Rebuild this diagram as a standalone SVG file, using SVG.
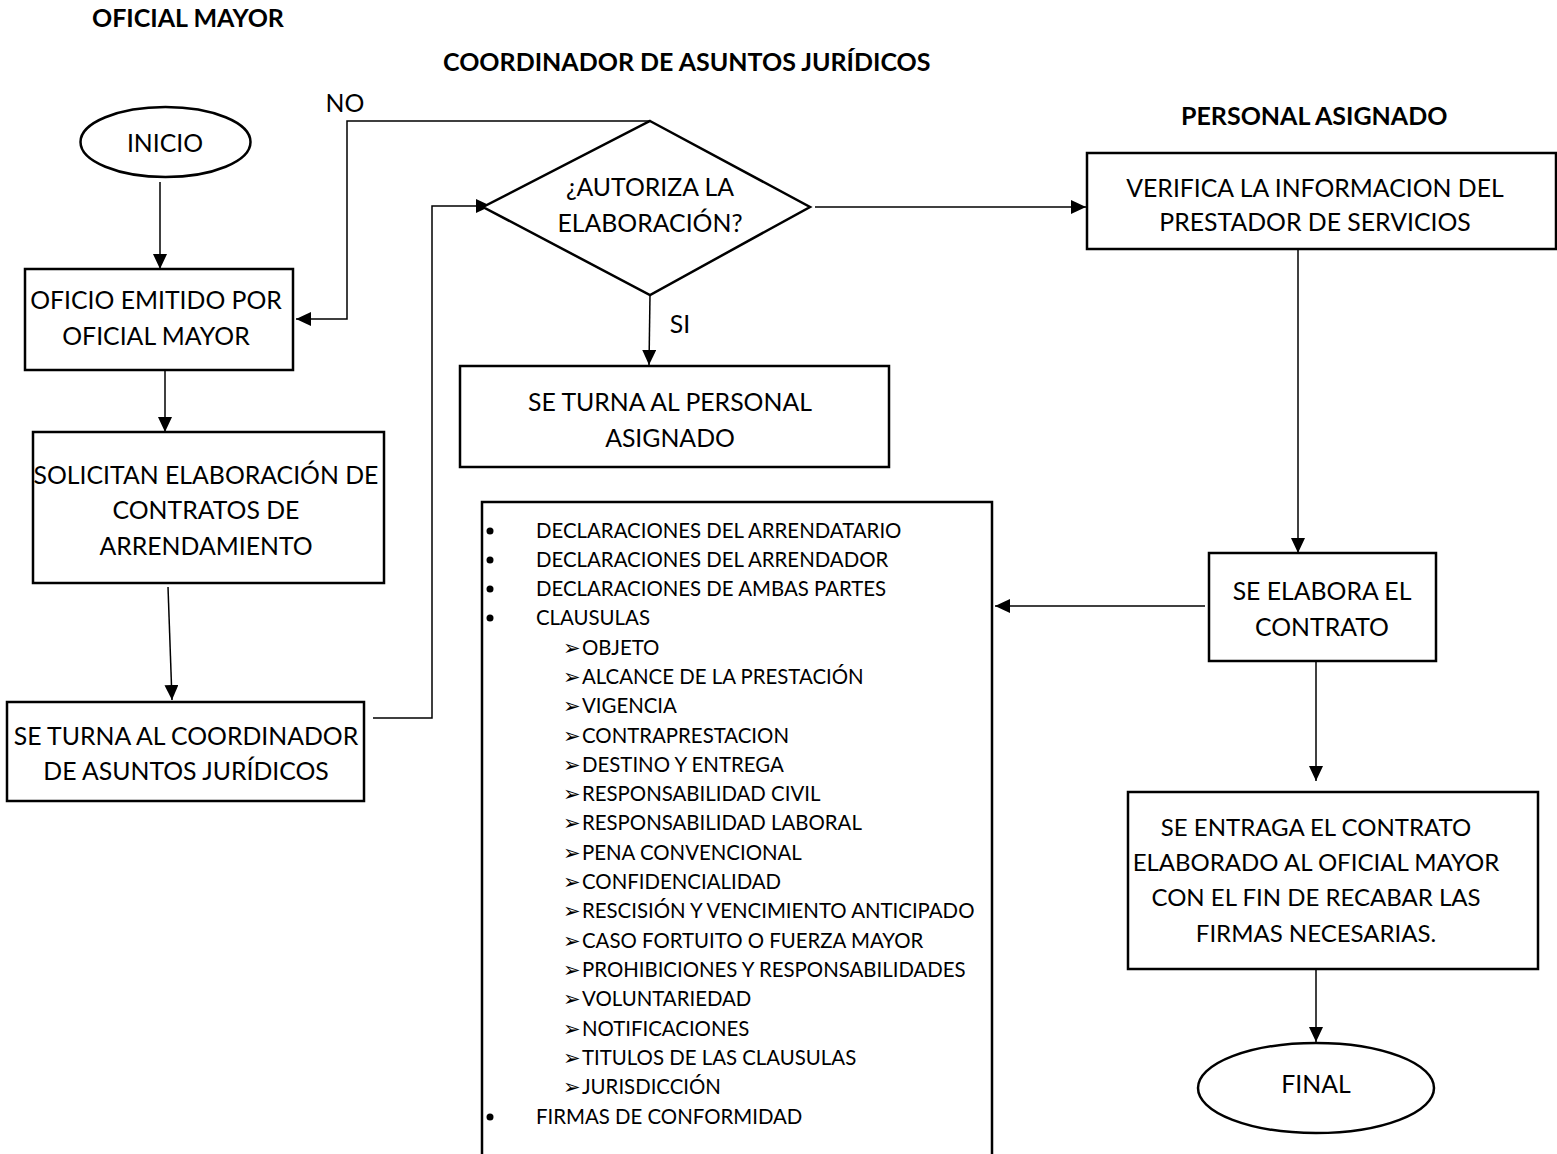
<svg xmlns="http://www.w3.org/2000/svg" width="1557" height="1154" viewBox="0 0 1557 1154">
<defs>
<marker id="ah" markerUnits="userSpaceOnUse" markerWidth="16" markerHeight="14" refX="15" refY="7" orient="auto">
<path d="M0,0 L15,7 L0,14 Z" fill="#000"/>
</marker>
<style>
.t{font-family:Lato,"Open Sans","Liberation Sans",sans-serif;font-size:24.8px;fill:#000;text-anchor:middle}
.h{font-family:Lato,"Open Sans","Liberation Sans",sans-serif;font-size:25px;font-weight:bold;fill:#000}
.l{font-family:Lato,"Open Sans","Liberation Sans",sans-serif;font-size:20.4px;fill:#000}
.b{font-family:"DejaVu Sans",sans-serif;font-size:21px;fill:#000}
.s{fill:#fff;stroke:#000;stroke-width:2.5}
.c{fill:none;stroke:#000;stroke-width:1.5;marker-end:url(#ah)}
</style>
</defs>
<rect width="1557" height="1154" fill="#fff"/>
<g id="titles">
<text class="h" x="92" y="27">OFICIAL MAYOR</text>
<text class="h" x="443" y="71">COORDINADOR DE ASUNTOS JURÍDICOS</text>
<text class="h" x="1181" y="125">PERSONAL ASIGNADO</text>
</g>
<g id="connectors">
<path class="c" d="M160,182 L160,269"/>
<path class="c" d="M650,121 L347,121 L347,319 L296,319"/>
<path class="c" d="M165,370 L165,432"/>
<path class="c" d="M168,587 L172,700"/>
<path class="c" d="M373,718 L432,718 L432,206 L491,206"/>
<path class="c" d="M650,295 L649,365"/>
<path class="c" d="M815,207 L1086,207"/>
<path class="c" d="M1298,250 L1298,553"/>
<path class="c" d="M1205,606 L995,606"/>
<path class="c" d="M1316,661 L1316,781"/>
<path class="c" d="M1316,969 L1316,1042"/>
<text class="t" x="345" y="112">NO</text>
<text class="t" x="680" y="333">SI</text>
</g>
<g id="inicio">
<ellipse class="s" cx="165.5" cy="142" rx="85" ry="35"/>
<text class="t" x="165" y="152">INICIO</text>
</g>
<g id="oficio">
<rect class="s" x="25" y="269" width="268" height="101"/>
<text class="t" x="156" y="309">OFICIO EMITIDO POR</text>
<text class="t" x="156" y="345">OFICIAL MAYOR</text>
</g>
<g id="solicitan">
<rect class="s" x="33" y="432" width="351" height="151"/>
<text class="t" x="206" y="484">SOLICITAN ELABORACIÓN DE</text>
<text class="t" x="206" y="519">CONTRATOS DE</text>
<text class="t" x="206" y="555">ARRENDAMIENTO</text>
</g>
<g id="turna-coord">
<rect class="s" x="7" y="702" width="357" height="99"/>
<text class="t" x="186" y="745">SE TURNA AL COORDINADOR</text>
<text class="t" x="186" y="780">DE ASUNTOS JURÍDICOS</text>
</g>
<g id="decision">
<polygon class="s" points="650,121 810,207 650,295 483,207"/>
<text class="t" x="650" y="196">¿AUTORIZA LA</text>
<text class="t" x="650" y="232">ELABORACIÓN?</text>
</g>
<g id="turna-personal">
<rect class="s" x="460" y="366" width="429" height="101"/>
<text class="t" x="670" y="411">SE TURNA AL PERSONAL</text>
<text class="t" x="670" y="447">ASIGNADO</text>
</g>
<g id="verifica">
<rect class="s" x="1087" y="153" width="469" height="96"/>
<text class="t" x="1315" y="197">VERIFICA LA INFORMACION DEL</text>
<text class="t" x="1315" y="231">PRESTADOR DE SERVICIOS</text>
</g>
<g id="elabora">
<rect class="s" x="1209" y="553" width="227" height="108"/>
<text class="t" x="1322" y="600">SE ELABORA EL</text>
<text class="t" x="1322" y="636">CONTRATO</text>
</g>
<g id="entrega">
<rect class="s" x="1128" y="792" width="410" height="177"/>
<g style="font-size:24px">
<text class="t" style="font-size:24px" x="1316" y="836">SE ENTRAGA EL CONTRATO</text>
<text class="t" style="font-size:24px" x="1316" y="871">ELABORADO AL OFICIAL MAYOR</text>
<text class="t" style="font-size:24px" x="1316" y="906">CON EL FIN DE RECABAR LAS</text>
<text class="t" style="font-size:24px" x="1316" y="942">FIRMAS NECESARIAS.</text>
</g>
</g>
<g id="final">
<ellipse class="s" cx="1316" cy="1088" rx="118" ry="45"/>
<text class="t" x="1316" y="1093">FINAL</text>
</g>
<g id="lista">
<path class="s" d="M482,1156 L482,502 L992,502 L992,1156"/>
<g fill="#000">
<circle cx="490" cy="531" r="3.5"/>
<circle cx="490" cy="560" r="3.5"/>
<circle cx="490" cy="589" r="3.5"/>
<circle cx="490" cy="618" r="3.5"/>
<circle cx="490" cy="1117" r="3.5"/>
</g>
<g class="b">
<text x="563" y="655">➢</text>
<text x="563" y="684">➢</text>
<text x="563" y="713">➢</text>
<text x="563" y="743">➢</text>
<text x="563" y="772">➢</text>
<text x="563" y="801">➢</text>
<text x="563" y="830">➢</text>
<text x="563" y="860">➢</text>
<text x="563" y="889">➢</text>
<text x="563" y="918">➢</text>
<text x="563" y="948">➢</text>
<text x="563" y="977">➢</text>
<text x="563" y="1006">➢</text>
<text x="563" y="1036">➢</text>
<text x="563" y="1065">➢</text>
<text x="563" y="1094">➢</text>
</g>
<g class="l">
<text x="536" y="538">DECLARACIONES DEL ARRENDATARIO</text>
<text x="536" y="567">DECLARACIONES DEL ARRENDADOR</text>
<text x="536" y="596">DECLARACIONES DE AMBAS PARTES</text>
<text x="536" y="625">CLAUSULAS</text>
<text x="582" y="655">OBJETO</text>
<text x="582" y="684">ALCANCE DE LA PRESTACIÓN</text>
<text x="582" y="713">VIGENCIA</text>
<text x="582" y="743">CONTRAPRESTACION</text>
<text x="582" y="772">DESTINO Y ENTREGA</text>
<text x="582" y="801">RESPONSABILIDAD CIVIL</text>
<text x="582" y="830">RESPONSABILIDAD LABORAL</text>
<text x="582" y="860">PENA CONVENCIONAL</text>
<text x="582" y="889">CONFIDENCIALIDAD</text>
<text x="582" y="918">RESCISIÓN Y VENCIMIENTO ANTICIPADO</text>
<text x="582" y="948">CASO FORTUITO O FUERZA MAYOR</text>
<text x="582" y="977">PROHIBICIONES Y RESPONSABILIDADES</text>
<text x="582" y="1006">VOLUNTARIEDAD</text>
<text x="582" y="1036">NOTIFICACIONES</text>
<text x="582" y="1065">TITULOS DE LAS CLAUSULAS</text>
<text x="582" y="1094">JURISDICCIÓN</text>
<text x="536" y="1124">FIRMAS DE CONFORMIDAD</text>
</g>
</g>
</svg>
